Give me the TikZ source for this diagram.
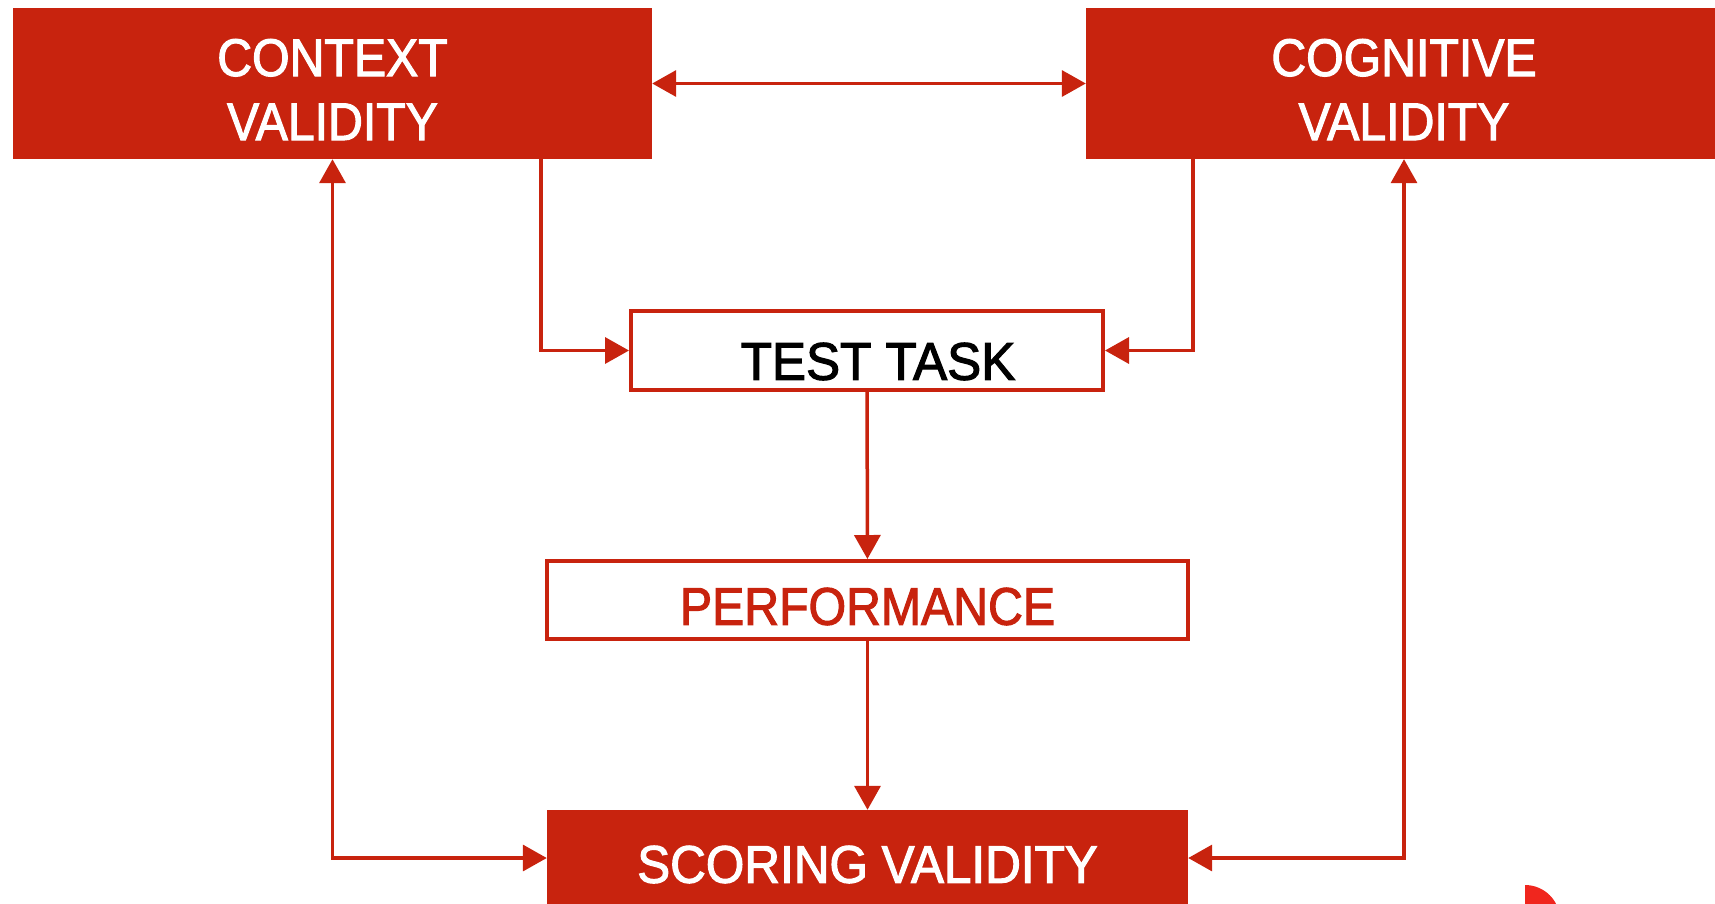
\documentclass[tikz,border=0pt]{standalone}
\usepackage{fontspec}
\setmainfont{Liberation Sans}[FakeStretch=0.91,FakeBold=2]
\usepackage{tikz}
\usetikzlibrary{arrows.meta}
\definecolor{cvred}{HTML}{C8230E}
\definecolor{logored}{HTML}{F0261E}

\begin{document}
\begin{tikzpicture}[x=1pt,y=-1pt,
  filled/.style={rectangle,fill=cvred,text=white,align=center,inner sep=0pt,font=\fontsize{53}{64}\selectfont},
  framed/.style={rectangle,draw=cvred,line width=4pt,fill=white,inner sep=0pt,font=\fontsize{53}{64}\selectfont},
  link/.style={draw=cvred,line width=3.5pt,-{Triangle[length=24pt,width=26pt]}},
  both/.style={link,{Triangle[length=24pt,width=26pt]}-{Triangle[length=24pt,width=26pt]}}]
\useasboundingbox (0,0) rectangle (1715,903);
\clip (0,0) rectangle (1715,903);
\node[filled,minimum width=639pt,minimum height=151pt] (context) at (332.5,83.5) {\rule{0pt}{49pt}CONTEXT\\VALIDITY};
\node[filled,minimum width=636pt,minimum height=151pt] (cognitive) at (1404,83.5) {\rule{0pt}{49pt}COGNITIVE\\VALIDITY};
\node[framed,minimum width=472pt,minimum height=79pt] (task) at (867,350.5) {\hspace*{22pt}\rule{0pt}{59pt}\scalebox{1.06}[1]{TEST TASK}};
\node[framed,text=cvred,minimum width=641pt,minimum height=78pt] (perf) at (867.5,600) {\rule{0pt}{50pt}PERFORMANCE};
\node[filled,minimum width=641pt,minimum height=106pt] (scoring) at (867.5,863) {\rule{0pt}{40pt}\scalebox{1.025}[1]{SCORING VALIDITY}};
\draw[both] (context) -- (cognitive);
\draw[link] ([xshift=208.5pt]context.south) |- (task);
\draw[link] ([xshift=-211pt]cognitive.south) |- (task);
\draw[link] (task) -- (perf);
\draw[link] (perf) -- (scoring);
\draw[both] (context) |- ([yshift=5pt]scoring.west);
\draw[both] (cognitive) |- ([yshift=5pt]scoring.east);
\fill[logored] (1525,920) -- (1525,885) arc[start angle=-90,end angle=0,radius=35] -- cycle;
\end{tikzpicture}
\end{document}
